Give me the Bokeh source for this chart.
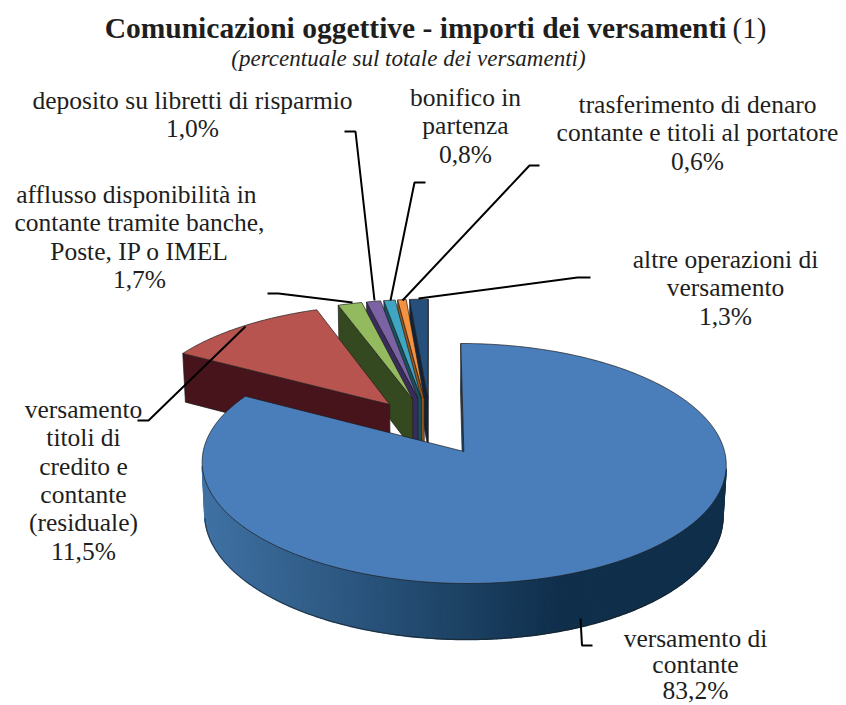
import math
from bokeh.plotting import figure
from bokeh.models import Range1d
from bokeh.core.properties import value
from bokeh.embed import file_html
from bokeh.resources import INLINE

# ---- data ----
categories = ["versamento di contante", "versamento titoli di credito e contante (residuale)",
              "afflusso disponibilità in contante tramite banche, Poste, IP o IMEL",
              "deposito su libretti di risparmio", "bonifico in partenza",
              "trasferimento di denaro contante e titoli al portatore",
              "altre operazioni di versamento"]
values = [83.2, 11.5, 1.7, 1.0, 0.8, 0.6, 1.3]
top_colors = ["#4a7ebb", "#b85450", "#93ba5f", "#7b62a3", "#3fa5c3", "#f59240", "#264f7c"]
wall_colors = ["#1f4566", "#48141c", "#34491f", "#392b5c", "#17525f", "#99561a", "#10233a"]

title_text = "Comunicazioni oggettive - importi dei versamenti"
title_note = "(1)"
subtitle_text = "(percentuale sul totale dei versamenti)"
label_lines = [
    (["versamento di", "contante", "83,2%"], 695, 638, 26.0),
    (["versamento", "titoli di", "credito e", "contante", "(residuale)", "11,5%"], 83, 409, 28.3),
    (["afflusso  disponibilità in", "contante tramite banche,", "Poste, IP o IMEL", "1,7%"], 139, 194, 28.3),
    (["deposito su libretti di risparmio", "1,0%"], 192, 100, 28.3),
    (["bonifico in", "partenza", "0,8%"], 465, 97, 28.3),
    (["trasferimento di denaro", "contante e titoli al portatore", "0,6%"], 697, 104, 28.3),
    (["altre operazioni di", "versamento", "1,3%"], 725, 259, 28.3),
]
leaders = [
    ([580, 581.5, 592], [618, 645, 645]),
    ([137, 148, 245], [420, 420, 326]),
    ([267, 278, 352], [293, 293, 302]),
    ([344, 355, 374], [131, 131, 300]),
    ([425, 414, 390], [182, 182, 300]),
    ([539, 529, 402], [165, 165, 300]),
    ([590, 577, 418], [277, 277, 298]),
]

# ---- perspective projection of the exploded 3D pie ----
EXPLODE = 0.253
HEIGHT = 0.2266
XC, YC = 430.0, 451.0
A, B, G, K, M = 260.7, 118.8, 232.0, 0.1, -0.0512

total = sum(values)
bounds = [0.0]
for v in values:
    bounds.append(bounds[-1] + v / total * 2 * math.pi)


def direction(t):
    return math.sin(t), math.cos(t)


mid0 = direction((bounds[0] + bounds[1]) / 2)
y_shift = -EXPLODE * mid0[1]


def project(x, y, z):
    yb = y + y_shift
    w = 1 + K * yb + M * z
    return XC + A * x / w, YC - (B * yb + G * z) / w


def signed_area(pts):
    s = 0.0
    for i in range(len(pts)):
        x0, y0 = pts[i]
        x1, y1 = pts[(i + 1) % len(pts)]
        s += x0 * y1 - x1 * y0
    return s / 2


def lerp_color(c0, c1, f):
    a = [int(c0[i:i + 2], 16) for i in (1, 3, 5)]
    b = [int(c1[i:i + 2], 16) for i in (1, 3, 5)]
    return "#%02x%02x%02x" % tuple(round(a[i] + (b[i] - a[i]) * f) for i in range(3))


p = figure(width=846, height=705, output_backend="svg", toolbar_location=None,
           x_range=Range1d(0, 846), y_range=Range1d(705, 0), min_border=0,
           outline_line_color=None)
p.axis.visible = False
p.grid.visible = False
p.background_fill_color = "white"
p.border_fill_color = "white"

EDGE = "#1c1c1c"


def poly(pts, fill, line=EDGE, lw=0.7):
    p.patch([q[0] for q in pts], [q[1] for q in pts], fill_color=fill, line_color=line, line_width=lw)


# far slices first, the big front slice last
for i in range(len(values) - 1, -1, -1):
    t0, t1 = bounds[i], bounds[i + 1]
    d = direction((t0 + t1) / 2)
    cx, cy = EXPLODE * d[0], EXPLODE * d[1]
    n = max(4, int((t1 - t0) / math.radians(1.0)))
    ts = [t0 + (t1 - t0) * j / n for j in range(n + 1)]
    top = [(cx + math.sin(t), cy + math.cos(t)) for t in ts]

    # radial walls
    for k, t in enumerate((t0, t1)):
        ox, oy = cx + math.sin(t), cy + math.cos(t)
        wall = [project(cx, cy, 0), project(ox, oy, 0), project(ox, oy, -HEIGHT), project(cx, cy, -HEIGHT)]
        area = signed_area(wall)
        if (k == 0 and area < 0) or (k == 1 and area > 0):
            poly(wall, wall_colors[i])

    # outer wall, in small shaded steps
    run = []
    steps = []
    for j in range(n):
        a0, a1 = top[j], top[j + 1]
        quad = [project(a0[0], a0[1], 0), project(a1[0], a1[1], 0),
                project(a1[0], a1[1], -HEIGHT), project(a0[0], a0[1], -HEIGHT)]
        if signed_area(quad) > 0:
            continue
        fx = (quad[0][0] + quad[1][0]) / 2
        if i == 0:
            f = min(1.0, max(0.0, (fx - 205) / (560 - 205)))
            col = lerp_color("#3f71a3", "#0f2f4b", f)
        else:
            col = wall_colors[i]
        steps.append((quad, col))
        if not run:
            run.append(a0)
        run.append(a1)
    for quad, col in steps:
        p.patch([q[0] for q in quad], [q[1] for q in quad], fill_color=col, line_color=col, line_width=1.6)
    if run:
        lower = [project(q[0], q[1], -HEIGHT) for q in run]
        p.line([q[0] for q in lower], [q[1] for q in lower], line_color=EDGE, line_width=0.7)

    # top face
    face = [project(cx, cy, 0)] + [project(q[0], q[1], 0) for q in top]
    poly(face, top_colors[i])

# leader lines
for xs, ys in leaders:
    p.line(xs, ys, line_color="black", line_width=2.0)

# texts
FONT = value("Liberation Serif")
TXT = "#1e1e1e"
p.text([726], [27], text=[title_text], text_font=FONT, text_font_size="29.5px", text_font_style="bold",
       text_align="right", text_baseline="middle", text_color=TXT)
p.text([732], [27], text=[title_note], text_font=FONT, text_font_size="29px",
       text_align="left", text_baseline="middle", text_color=TXT)
p.text([408], [58], text=[subtitle_text], text_font=FONT, text_font_size="23px", text_font_style="italic",
       text_align="center", text_baseline="middle", text_color=TXT)
for lines, lx, ly, pitch in label_lines:
    for j, line in enumerate(lines):
        p.text([lx], [ly + j * pitch], text=[line], text_font=FONT, text_font_size="25.5px",
               text_align="center", text_baseline="middle", text_color=TXT)

open("out.html", "w").write(file_html(p, INLINE))
